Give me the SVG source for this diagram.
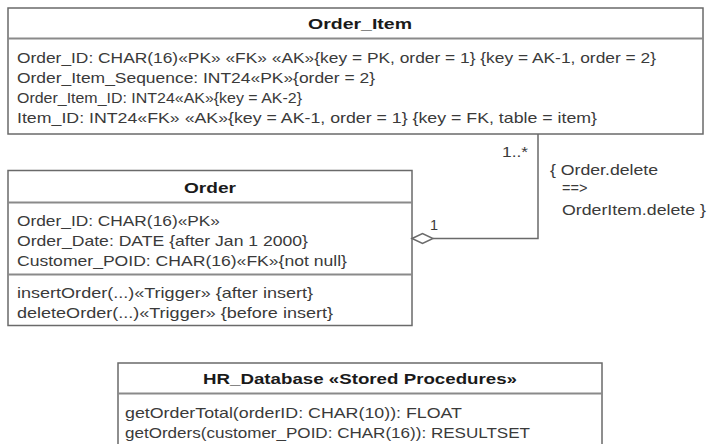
<svg xmlns="http://www.w3.org/2000/svg" width="710" height="444" viewBox="0 0 710 444">
  <style>
    .box { fill: #ffffff; stroke: #6a6a6a; stroke-width: 1.5; }
    .sep { stroke: #8a8a8a; stroke-width: 2; }
    .title { font-family: "Liberation Sans", Arial, sans-serif; font-size: 15px; font-weight: bold; fill: #1a1a1a; text-anchor: middle; }
    .txt { font-family: "Liberation Sans", Arial, sans-serif; font-size: 14.5px; fill: #3a3a3a; }
    .line { fill: none; stroke: #6a6a6a; stroke-width: 1.5; }
  </style>
  <rect width="710" height="444" fill="#ffffff"/>

  <!-- Order_Item table -->
  <g id="order-item">
    <rect class="box" x="8" y="8" width="695" height="126"/>
    <line class="sep" x1="8" y1="38.5" x2="703" y2="38.5"/>
    <text class="title" x="360" y="29" textLength="104" lengthAdjust="spacingAndGlyphs">Order_Item</text>
    <text class="txt" x="17" y="63" textLength="639" lengthAdjust="spacingAndGlyphs">Order_ID: CHAR(16)«PK» «FK» «AK»{key = PK, order = 1} {key = AK-1, order = 2}</text>
    <text class="txt" x="17" y="83" textLength="358" lengthAdjust="spacingAndGlyphs">Order_Item_Sequence: INT24«PK»{order = 2}</text>
    <text class="txt" x="17" y="103" textLength="285" lengthAdjust="spacingAndGlyphs">Order_Item_ID: INT24«AK»{key = AK-2}</text>
    <text class="txt" x="17" y="123" textLength="580" lengthAdjust="spacingAndGlyphs">Item_ID: INT24«FK» «AK»{key = AK-1, order = 1} {key = FK, table = item}</text>
  </g>

  <!-- Order table -->
  <g id="order">
    <rect class="box" x="8" y="170.5" width="404" height="155"/>
    <line class="sep" x1="8" y1="202.5" x2="412" y2="202.5"/>
    <line class="sep" x1="8" y1="274.5" x2="412" y2="274.5"/>
    <text class="title" x="210" y="193" textLength="52" lengthAdjust="spacingAndGlyphs">Order</text>
    <text class="txt" x="17" y="226" textLength="203" lengthAdjust="spacingAndGlyphs">Order_ID: CHAR(16)«PK»</text>
    <text class="txt" x="17" y="246" textLength="291" lengthAdjust="spacingAndGlyphs">Order_Date: DATE {after Jan 1 2000}</text>
    <text class="txt" x="17" y="266" textLength="330" lengthAdjust="spacingAndGlyphs">Customer_POID: CHAR(16)«FK»{not null}</text>
    <text class="txt" x="17" y="298" textLength="296" lengthAdjust="spacingAndGlyphs">insertOrder(...)«Trigger» {after insert}</text>
    <text class="txt" x="17" y="318" textLength="316" lengthAdjust="spacingAndGlyphs">deleteOrder(...)«Trigger» {before insert}</text>
  </g>

  <!-- HR_Database stored procedures -->
  <g id="hr-database">
    <rect class="box" x="118" y="363" width="484" height="100"/>
    <line class="sep" x1="118" y1="393.5" x2="602" y2="393.5"/>
    <text class="title" x="360" y="384" textLength="314" lengthAdjust="spacingAndGlyphs">HR_Database «Stored Procedures»</text>
    <text class="txt" x="125" y="418" textLength="337" lengthAdjust="spacingAndGlyphs">getOrderTotal(orderID: CHAR(10)): FLOAT</text>
    <text class="txt" x="125" y="438" textLength="405" lengthAdjust="spacingAndGlyphs">getOrders(customer_POID: CHAR(16)): RESULTSET</text>
  </g>

  <!-- aggregation: Order (1) to Order_Item (1..*) -->
  <g id="connectors">
    <polyline class="line" points="538,134 538,238.5 433,238.5"/>
    <polygon class="line" fill="#ffffff" points="412,238.5 422.5,233.5 433,238.5 422.5,243.5"/>
    <text class="txt" x="502" y="157" textLength="26" lengthAdjust="spacingAndGlyphs">1..*</text>
    <text class="txt" x="430" y="230">1</text>
    <text class="txt" x="550" y="175" textLength="108" lengthAdjust="spacingAndGlyphs">{ Order.delete</text>
    <text class="txt" x="562" y="193">==&gt;</text>
    <text class="txt" x="562" y="215" textLength="144" lengthAdjust="spacingAndGlyphs">OrderItem.delete }</text>
  </g>
</svg>
